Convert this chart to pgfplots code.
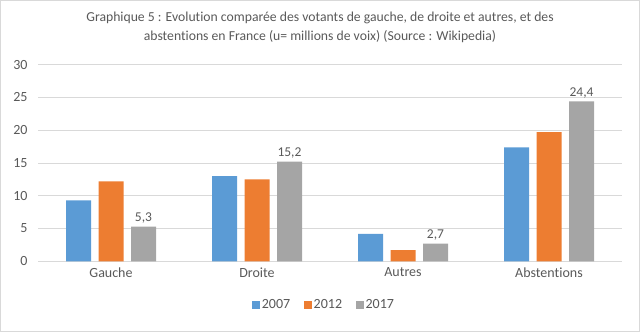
\documentclass[border=0pt]{standalone}
\usepackage{fontspec}
\setmainfont[Ligatures=NoCommon]{Carlito}
\usepackage{pgfplots}
\pgfplotsset{compat=1.18}
\definecolor{cA}{HTML}{5B9BD5}
\definecolor{cB}{HTML}{ED7D31}
\definecolor{cC}{HTML}{A5A5A5}
\definecolor{txt}{HTML}{595959}
\definecolor{grid}{HTML}{D9D9D9}
\begin{document}
\begin{tikzpicture}[x=1bp,y=1bp]
\useasboundingbox (0,0) rectangle (640,332);
\draw[color=grid, line width=1bp] (0.5,0.5) rectangle (639.5,331.5);
\node[text=txt, font=\fontsize{13.7bp}{19bp}\selectfont, align=center] at (320,304.5)
  {Graphique 5 : Evolution comparée des votants de gauche, de droite et autres, et des\\abstentions en France (u= millions de voix) (Source : Wikipedia)};
\begin{axis}[
  at={(38bp,70.7bp)}, anchor=south west,
  scale only axis, width=584bp, height=196.6bp,
  ybar=7.5bp, bar width=25bp,
  xmin=-0.5, xmax=3.5, ymin=0, ymax=30,
  xtick=data, xticklabels={Gauche,Droite,Autres,Abstentions},
  ytick={0,5,...,30},
  ymajorgrids, grid style={color=grid, line width=0.8bp},
  axis x line*=bottom, axis y line*=left,
  x axis line style={color=grid, line width=0.8bp, -},
  y axis line style={draw=none},
  major tick length=0pt,
  tick label style={font=\fontsize{14bp}{16bp}\selectfont, text=txt},
  yticklabel style={xshift=-7bp},
  xticklabel style={yshift=-3bp},
  /pgf/number format/assume math mode=true,
  legend style={at={(0.49,-0.222)}, anchor=center, draw=none, legend columns=3,
    font=\fontsize{14bp}{16bp}\selectfont, text=txt,
    /tikz/every even column/.append style={column sep=12bp}},
  legend image code/.code={\fill[#1] (0bp,-3.8bp) rectangle (7.5bp,3.8bp);},
]
\addplot[fill=cA, draw=none] coordinates {(0,9.3) (1,13.0) (2,4.2) (3,17.4)};
\addplot[fill=cB, draw=none] coordinates {(0,12.2) (1,12.5) (2,1.7) (3,19.7)};
\addplot[fill=cC, draw=none,
  nodes near coords,
  every node near coord/.append style={font=\fontsize{13.5bp}{15bp}\selectfont, text=txt,
    /pgf/number format/.cd, use comma, fixed, fixed zerofill, precision=1, assume math mode=true},
  ] coordinates {(0,5.3) (1,15.2) (2,2.7) (3,24.4)};
\legend{2007,2012,2017}
\end{axis}
\end{tikzpicture}
\end{document}
